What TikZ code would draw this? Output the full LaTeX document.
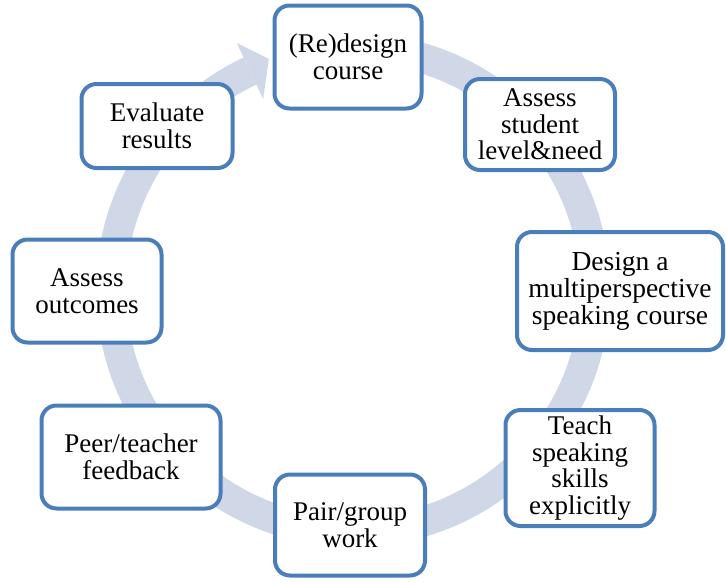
\documentclass[tikz,border=0pt]{standalone}
\usepackage{fontspec}
\setmainfont{Liberation Serif}
\newfontfamily\stepfont{Liberation Serif}
\usetikzlibrary{calc}

\definecolor{boxblue}{RGB}{74,126,187}
\definecolor{ringgray}{RGB}{208,216,232}

\tikzset{
  box/.style={draw=boxblue, line width=4pt, rounded corners=15pt, fill=white,
    align=center, inner sep=2pt, font=\stepfont\fontsize{27}{26.5}\selectfont},
  ring/.style={draw=ringgray, line width=30pt},
  ringhead/.style={fill=ringgray}
}

\begin{document}
\begin{tikzpicture}[x=1pt, y=-1pt]
\useasboundingbox (0,0) rectangle (726,582);

% 円環の矢印
\coordinate (centre) at (353,290);
\draw[ring] (centre) ++(-100:242) arc[start angle=-100, end angle=244.8, radius=242];
\fill[ringhead] ($(centre)+(244.8:273)$) -- ($(centre)+(250:246)$) -- ($(centre)+(244.8:211)$) -- cycle;

% 各ステップ(時計回り)
\foreach \name/\x/\y/\w/\h/\text in {
    redesign/348/57/147/103/{(Re)design\\course},
    level/540/124.5/150/91/{Assess\\student\\level\&need},
    teach/580/468/149/116/{Teach\\speaking\\skills\\explicitly},
    pairwork/350/525/150/101/{Pair/group\\work},
    feedback/131/457/179/103/{Peer/teacher\\feedback},
    outcomes/87/291/149/103/{Assess\\outcomes},
    evaluate/157/126/151/84/{Evaluate\\results}} {
    \node[box, minimum width=\w, minimum height=\h] (\name) at (\x,\y) {\text};
}
\node[box, minimum width=206, minimum height=118, font=\stepfont\fontsize{27.5}{27}\selectfont] (course) at (620,291)
    {Design a\\multiperspective\\speaking course};
\end{tikzpicture}
\end{document}
